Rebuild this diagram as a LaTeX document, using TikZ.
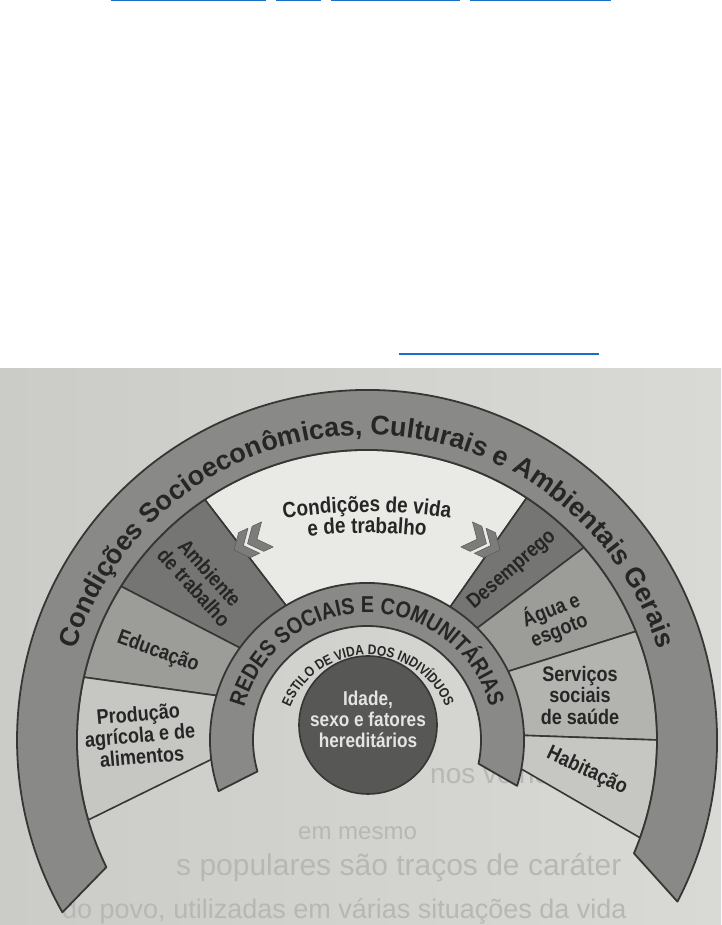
\documentclass[tikz,border=0pt]{standalone}
\usepackage{fontspec}
\setmainfont{Liberation Sans}
\newfontfamily\condf[FakeStretch=0.86]{Liberation Sans}
\usetikzlibrary{calc,decorations.text}
\definecolor{paperL}{HTML}{CBCBC8}
\definecolor{paperR}{HTML}{D9D9D6}
\definecolor{ghost}{HTML}{B7B7B4}
\definecolor{bandc}{HTML}{898987}
\definecolor{edge}{HTML}{363634}
\definecolor{whitec}{HTML}{E9E9E6}
\definecolor{segdark}{HTML}{757573}
\definecolor{segmid}{HTML}{9C9C99}
\definecolor{segserv}{HTML}{B3B3B0}
\definecolor{seglight}{HTML}{C6C6C3}
\definecolor{circc}{HTML}{575755}
\definecolor{txt}{HTML}{262626}
\definecolor{circtxt}{HTML}{E4E4E2}
\definecolor{chevc}{HTML}{7C7C7A}
\definecolor{linkblue}{HTML}{1A6FC9}
\newcommand\ringseg[5]{%
  \path[#1] ($(O)+(#2:290)$) arc[start angle=#2,end angle=#3,radius=290]
    -- ($(O)+(#5:156)$) arc[start angle=#5,end angle=#4,radius=156] -- cycle;}
\newcommand\chevpair{%
  \path[chevstyle] (0,0) -- (10,12) -- (19,12) -- (9,0) -- (19,-12) -- (10,-12) -- cycle;
  \path[chevstyle] (13,0) -- (23,12) -- (32,12) -- (22,0) -- (32,-12) -- (23,-12) -- cycle;}
\tikzset{
  segbox/.style={fill=#1, draw=edge, line width=1.6pt, line join=round},
  bandbox/.style={fill=bandc, draw=edge, line width=1.8pt, line join=round},
  chevstyle/.style={fill=chevc, draw=edge!80, line width=0.6pt, line join=round},
  lbl/.style={font=\condf\bfseries\fontsize{21}{21.5}\selectfont, text=txt, align=center, inner sep=0pt},
  ghosttext/.style={font=\fontsize{#1}{#1}\selectfont, text=ghost, inner sep=0pt, anchor=west}
}
\begin{document}
\begin{tikzpicture}[x=1pt,y=1pt]
\useasboundingbox (0,0) rectangle (721,925);
\fill[white] (0,0) rectangle (721,925);
% link underlines of the web page
\fill[linkblue] (111,923.6) rectangle (266,925);
\fill[linkblue] (276,923.6) rectangle (321,925);
\fill[linkblue] (331,923.6) rectangle (460,925);
\fill[linkblue] (470,923.6) rectangle (611,925);
\fill[linkblue] (399,570.2) rectangle (599,571.6);
% photo of the page
\shade[left color=paperL, right color=paperR] (0,0) rectangle (721,556);
% faint text of the page
\node[ghosttext=28] (g1) at (430,152) {nos velhos};
\node[ghosttext=24] (g2) at (298,92) {em mesmo};
\node[ghosttext=30] (g3) at (176,57) {s populares são traços de caráter};
\node[ghosttext=27] (g4) at (62,14) {do povo, utilizadas em várias situações da vida};

\coordinate (O) at (367,185);
% middle ring segments
\ringseg{segbox=whitec}{56.6}{124}{58}{121}
\ringseg{segbox=segdark}{124}{148}{121}{144}
\ringseg{segbox=segmid}{148}{167.5}{144}{163.5}
\ringseg{segbox=seglight}{167.5}{196}{163.5}{187}
\ringseg{segbox=segdark}{41.6}{56.6}{45.5}{58}
\ringseg{segbox=segmid}{22}{41.6}{26}{45.5}
\ringseg{segbox=segserv}{0}{22}{1.7}{26}
\ringseg{segbox=seglight}{-19.7}{0}{-10.5}{1.7}
% redes band
\path[bandbox] ($(O)+(-17:157)$) arc[start angle=-17,end angle=199,radius=157]
  -- ($(O)+(196:114)$) arc[start angle=196,end angle=-12,radius=114] -- cycle;
% outer band
\path[bandbox] ($(O)+(-27.5:350)$) arc[start angle=-27.5,end angle=209.5,radius=350]
  -- ($(O)+(206:290)$) arc[start angle=206,end angle=-23,radius=290] -- cycle;
% core circle
\node[circle, fill=circc, draw=edge, line width=1.6pt, minimum size=138pt, inner sep=0pt] (core) at (368,200) {};
\node[font=\condf\bfseries\fontsize{20}{21}\selectfont, text=circtxt, align=center, inner sep=0pt] (coretxt) at (368,206) {Idade,\\sexo e fatores\\hereditários};

% curved texts
\path[decorate,decoration={text along path,text align=center,text color=txt,
  text={|\bfseries\fontsize{27}{27}\selectfont|Condições Socioeconômicas, Culturais e Ambientais Gerais}}]
  ($(O)+(180:305)$) arc[start angle=180,end angle=0,radius=305];
\path[decorate,decoration={text along path,text align=center,text color=txt,
  text={|\condf\bfseries\fontsize{23}{23}\selectfont|REDES SOCIAIS E COMUNITÁRIAS}}]
  ($(O)+(180:127)$) arc[start angle=180,end angle=0,radius=127];
\coordinate (E) at (368,186);
\path[decorate,decoration={text along path,text align=center,text color=txt,
  text={|\condf\bfseries\fontsize{14}{14}\selectfont|ESTILO DE VIDA DOS INDIVÍDUOS}}]
  ($(E)+(180:84)$) arc[start angle=180,end angle=0,radius=84];
\coordinate (T1) at (367,-137);
\coordinate (T2) at (367,-158);
\path[decorate,decoration={text along path,text align=center,text color=txt,
  text={|\condf\bfseries\fontsize{22}{22}\selectfont|Condições de vida}}]
  ($(T1)+(100:550)$) arc[start angle=100,end angle=80,radius=550];
\path[decorate,decoration={text along path,text align=center,text color=txt,
  text={|\condf\bfseries\fontsize{22}{22}\selectfont|e de trabalho}}]
  ($(T2)+(100:550)$) arc[start angle=100,end angle=80,radius=550];

% chevrons
\begin{scope}[shift={(234,375)}, rotate=25, scale=1.15]\chevpair\end{scope}
\begin{scope}[shift={(500,375)}, rotate=-25, xscale=-1.15, yscale=1.15]\chevpair\end{scope}

% segment labels
\node[lbl, rotate=-48] (amb) at (202,345) {Ambiente\\de trabalho};
\node[lbl, rotate=-20] (edu) at (158,273) {Educação};
\node[lbl, rotate=5] (prod) at (140,190) {Produção\\agrícola e de\\alimentos};
\node[lbl, rotate=41] (des) at (512,355) {Desemprego};
\node[lbl, rotate=22] (agua) at (555,305) {Água e\\esgoto};
\node[lbl] (serv) at (580,230) {Serviços\\sociais\\de saúde};
\node[lbl, rotate=-25] (hab) at (587,154) {Habitação};
\end{tikzpicture}
\end{document}
